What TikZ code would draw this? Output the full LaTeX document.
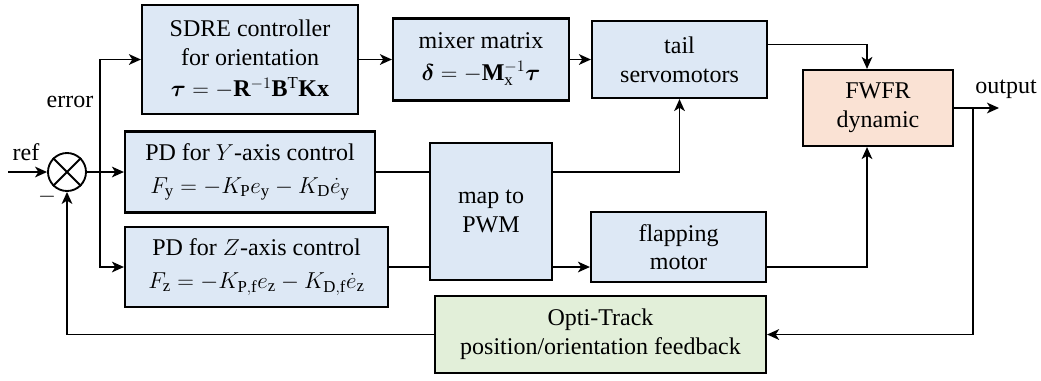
\documentclass[tikz,border=0pt]{standalone}
\usepackage{amsmath,bm}
\usepackage{fontspec}
\setmainfont{Liberation Serif}
\newfontfamily\boxfont{Liberation Serif}
\usetikzlibrary{arrows.meta}
\definecolor{boxblue}{RGB}{221,232,245}
\definecolor{boxpeach}{RGB}{250,226,212}
\definecolor{boxgreen}{RGB}{226,239,217}
\begin{document}
\begin{tikzpicture}[x=0.75pt, y=-0.75pt,
	block/.style={draw=black, line width=1.6pt, fill=boxblue, align=center, inner sep=0pt,
		font=\boxfont\fontsize{18}{21.5}\selectfont},
	wire/.style={line width=1.4pt},
	arr/.style={wire, -{Stealth[length=9pt, width=8pt, inset=2.5pt]}},
	lbl/.style={font=\boxfont\fontsize{18}{21.5}\selectfont}]

	\useasboundingbox (0, 0) rectangle (1041, 380);

	\node[block, minimum width=162pt, minimum height=81.75pt] (sdre) at (250, 59.5) {SDRE controller\\for orientation\\[2pt]$\boldsymbol{\tau} = -\mathbf{R}^{-1}\mathbf{B}^{\mathrm{T}}\mathbf{Kx}$};
	\node[block, minimum width=132pt, minimum height=61.5pt] (mixer) at (481, 59.5) {mixer matrix\\[2pt]$\boldsymbol{\delta} = -\mathbf{M}_{\mathrm{x}}^{-1}\boldsymbol{\tau}$};
	\node[block, minimum width=131.25pt, minimum height=57.75pt] (tail) at (679.5, 59.5) {tail\\servomotors};
	\node[block, fill=boxpeach, minimum width=112.5pt, minimum height=57pt] (fwfr) at (878, 108) {FWFR\\dynamic};
	\node[block, minimum width=187.5pt, minimum height=60.75pt] (pdy) at (250, 172) {PD for $Y$-axis control\\[3pt]$F_{\mathrm{y}} = -K_{\mathrm{P}}e_{\mathrm{y}} - K_{\mathrm{D}}\dot{e}_{\mathrm{y}}$};
	\node[block, minimum width=197.25pt, minimum height=60pt] (pdz) at (256.5, 267) {PD for $Z$-axis control\\[3pt]$F_{\mathrm{z}} = -K_{\mathrm{P,f}}e_{\mathrm{z}} - K_{\mathrm{D,f}}\dot{e}_{\mathrm{z}}$};
	\node[block, minimum width=91.5pt, minimum height=102.75pt] (map) at (491, 211.5) {map to\\PWM};
	\node[block, minimum width=131.25pt, minimum height=52.5pt] (flap) at (678.5, 247) {flapping\\motor};
	\node[block, fill=boxgreen, minimum width=248.25pt, minimum height=57.75pt] (opti) at (600.5, 334.5) {Opti-Track\\position/orientation feedback};

	\node[draw=black, line width=1.4pt, circle, minimum size=28.5pt, inner sep=0pt] (sum) at (67, 172) {};
	\draw[wire] (sum.north east) -- (sum.south west) (sum.north west) -- (sum.south east);

	\coordinate (ref) at (8, 172);
	\coordinate (split) at (100, 172);
	\coordinate (join) at (867, 0);
	\coordinate (tap) at (973, 108);
	\coordinate (out) at (999, 108);

	\node[lbl] (reflbl) at (26, 152) {ref};
	\node[lbl] (errlbl) at (70, 102) {error};
	\node[lbl] (minus) at (47, 197) {$-$};
	\node[lbl] (outlbl) at (1006, 89) {output};

	\draw[arr] (ref) -- (sum.west);
	\draw[wire] (sum.east) -- (split);
	\draw[arr] (split) |- (sdre.west);
	\draw[arr] (split) -- (pdy.west);
	\draw[arr] (split) |- (pdz.west);
	\draw[arr] (sdre.east) -- (mixer.west);
	\draw[arr] (mixer.east) -- (tail.west);
	\draw[arr] ([yshift=11.25pt]tail.east) -| (join |- fwfr.north);
	\draw[wire] (pdy.east) -- (map.west |- pdy.east);
	\draw[arr] (map.east |- pdy.east) -| (tail.south);
	\draw[wire] (pdz.east) -- (map.west |- pdz.east);
	\draw[arr] (map.east |- pdz.east) -- (flap.west |- pdz.east);
	\draw[arr] (flap.east |- pdz.east) -| (join |- fwfr.south);
	\draw[arr] (fwfr.east) -- (out);
	\draw[arr] (tap) |- (opti.east);
	\draw[arr] (opti.west) -| (sum.south);

\end{tikzpicture}
\end{document}
